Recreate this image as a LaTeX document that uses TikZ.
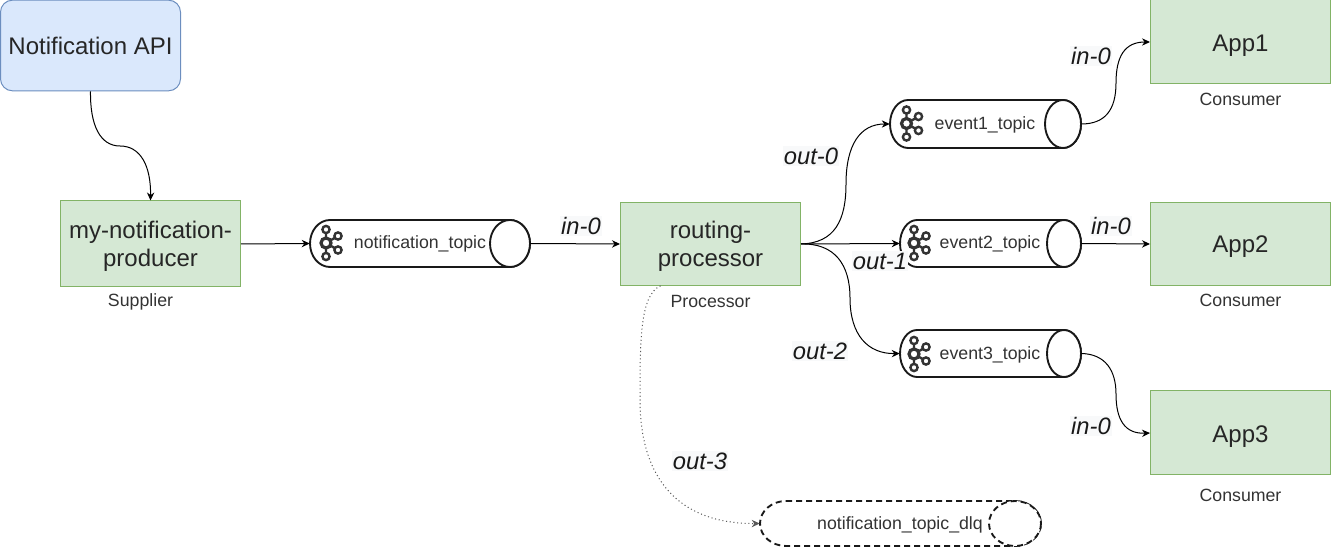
\documentclass[tikz,border=0pt]{standalone}
\usepackage{fontspec}
\setmainfont{Liberation Sans}
\usetikzlibrary{arrows.meta,calc}
\definecolor{greenfill}{HTML}{D5E8D4}
\definecolor{greenline}{HTML}{82B366}
\definecolor{bluefill}{HTML}{DAE8FC}
\definecolor{blueline}{HTML}{6C8EBF}
\definecolor{txt}{HTML}{333333}
\definecolor{labelbg}{HTML}{F8F9FA}
\tikzset{
  x=0.75pt,y=-0.75pt,
  box/.style={draw=greenline,fill=greenfill,line width=0.75pt,inner sep=0pt,align=center,font=\fontsize{18}{21}\selectfont,text=black!85},
  apibox/.style={box,draw=blueline,fill=bluefill,rounded corners=9pt},
  small/.style={inner sep=0pt,text=txt,font=\fontsize{13.3}{16}\selectfont},
  portlabel/.style={inner sep=1pt,fill=labelbg,text=black!90,font=\fontsize{17.8}{21}\selectfont\itshape},
  edge/.style={draw=black,line width=0.75pt,-{Stealth[length=6pt,width=5.5pt]}},
  dotedge/.style={edge,draw=black!65,dash pattern=on 0.8pt off 2pt},
  cyl/.style={draw=black!90,line width=1.4pt,fill=white},
  dashcyl/.style={cyl,dash pattern=on 4.5pt off 3pt},
  anchorbox/.style={inner sep=0pt,minimum width=0pt},
}
% name, x0, x1, y0, y1, rx, style
\newcommand{\topiccyl}[7]{%
  \path[#7] ({#2+#6},#4) -- ({#3-#6},#4) arc (-90:90:#6 and {(#5-#4)/2}) -- ({#2+#6},#5) arc (90:270:#6 and {(#5-#4)/2}) -- cycle;
  \path[#7] ({#3-#6},{(#4+#5)/2}) ellipse ({#6} and {(#5-#4)/2});
  \node[anchorbox,minimum width={(#3-#2)*0.75pt},minimum height={(#5-#4)*0.75pt}] (#1) at ({(#2+#3)/2},{(#4+#5)/2}) {};
}
\newcommand{\kafkaicon}[2]{%
  \begin{scope}[shift={(#1,#2)},draw=txt,line width=1.8pt]
    \draw (0,-10) -- (0,10) (0,0) -- (12,-7) (0,0) -- (12,7);
    \draw[fill=white,line width=2.4pt] (0,0) circle (5);
    \draw[fill=white] (0,-13.5) circle (3.6);
    \draw[fill=white] (0,13.5) circle (3.6);
    \draw[fill=white] (12,-7) circle (3.6);
    \draw[fill=white] (12,7) circle (3.6);
  \end{scope}}
\newcommand{\lowered}[2]{\smash{\raisebox{-#1}{#2}}}
\begin{document}
\begin{tikzpicture}
\useasboundingbox (0,0) rectangle (1331,548);
% boxes
\node[apibox,minimum width=135pt,minimum height=68pt] (api) at (90.5,45.5) {Notification API};
\node[box,minimum width=135pt,minimum height=64.5pt] (prod) at (150.5,244) {\rule{0pt}{17pt}my-notification-\\producer};
\node[box,minimum width=135pt,minimum height=62pt] (proc) at (710.5,244) {\rule{0pt}{17pt}routing-\\processor};
\node[box,minimum width=135pt,minimum height=63pt] (app1) at (1240.5,42) {\lowered{7.5pt}{App1}};
\node[box,minimum width=135pt,minimum height=62pt] (app2) at (1240.5,244) {\lowered{6.5pt}{App2}};
\node[box,minimum width=135pt,minimum height=63pt] (app3) at (1240.5,433) {\lowered{7.5pt}{App3}};
% topics
\topiccyl{ntopic}{310}{530}{220}{267}{20}{cyl}
\topiccyl{ev1}{890}{1081}{100}{148}{18}{cyl}
\topiccyl{ev2}{900}{1081}{220}{267}{17}{cyl}
\topiccyl{ev3}{900}{1081}{330}{377}{17}{cyl}
\topiccyl{dlq}{760}{1041}{501}{546}{26}{dashcyl}
% connectors
\draw[edge] (api.south) .. controls (90,125) and (100,146) .. (120,146) .. controls (140,146) and (151,165) .. (prod.north);
\draw[edge] (prod.east) -- (ntopic.west);
\draw[edge] (ntopic.east) -- (proc.west);
\draw[edge] (proc.east) .. controls (835,243) and (846,220) .. (846,184) .. controls (846,145) and (860,124) .. (ev1.west);
\draw[edge] (proc.east) -- (ev2.west);
\draw[edge] (proc.east) .. controls (835,243) and (850,265) .. (850,298) .. controls (850,335) and (868,354) .. (ev3.west);
\draw[edge] (ev1.east) .. controls (1105,124) and (1116,110) .. (1116,83) .. controls (1116,56) and (1125,42) .. (app1.west);
\draw[edge] (ev2.east) -- (app2.west);
\draw[edge] (ev3.east) .. controls (1105,354) and (1116,370) .. (1116,394) .. controls (1116,420) and (1125,434) .. (app3.west);
\draw[dotedge] ($(proc.south)+(-50,0)$) .. controls (640,295) and (640,340) .. (640,400) .. controls (640,480) and (680,524) .. (dlq.west);
% icons
\kafkaicon{326}{243}
\kafkaicon{906.5}{123.5}
\kafkaicon{914}{243}
\kafkaicon{914}{354}
% topic names
\node[small] (t0) at (420,244) {notification\_topic};
\node[small] (t1) at (985,125) {event1\_topic};
\node[small] (t2) at (990,244) {event2\_topic};
\node[small] (t3) at (990,355) {event3\_topic};
\node[small] (t4) at (900,525) {notification\_topic\_dlq};
% captions
\node[small] (c0) at (140.5,302) {Supplier};
\node[small] (c1) at (710.5,301) {Processor};
\node[small] (c2) at (1240.5,99) {Consumer};
\node[small] (c3) at (1240.5,300) {Consumer};
\node[small] (c4) at (1240.5,495) {Consumer};
% port labels
\node[portlabel] (l0) at (581,226) {in-0};
\node[portlabel] (l1) at (811,156) {out-0};
\node[portlabel] (l2) at (880,261) {out-1};
\node[portlabel] (l3) at (820,351) {out-2};
\node[portlabel] (l4) at (700,461) {out-3};
\node[portlabel] (l5) at (1091,56) {in-0};
\node[portlabel] (l6) at (1111,226) {in-0};
\node[portlabel] (l7) at (1091,426) {in-0};
\end{tikzpicture}
\end{document}
